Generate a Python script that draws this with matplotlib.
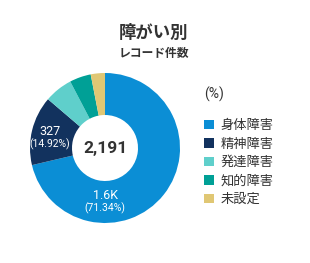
import matplotlib
matplotlib.use("Agg")
import matplotlib.pyplot as plt
from matplotlib.patches import Patch
import numpy as np

plt.rcParams['font.family'] = ['Roboto', 'Noto Sans CJK JP', 'DejaVu Sans']

categories = ['身体障害', '精神障害', '発達障害', '知的障害', '未設定']
values = [1563, 327, 133, 101, 67]
colors = ['#0B8ED5', '#12325E', '#5FCFCB', '#00A096', '#E0C774']
value_labels = ['1.6K', '327', '', '', '']
pct_labels = ['(71.34%)', '(14.92%)', '', '', '']
total_label = '2,191'
title = '障がい別'
subtitle = 'レコード件数'
legend_title = '(%)'

W, H = 310, 263
fig = plt.figure(figsize=(W / 100, H / 100), dpi=100)
ax = fig.add_axes([0, 0, 1, 1])

cx, cy, R = 105, H - 148, 75
wedges, _ = ax.pie(values, colors=colors, startangle=90, counterclock=False,
                   center=(cx, cy), radius=R,
                   wedgeprops=dict(width=R * 0.56, linewidth=0))
ax.set_xlim(0, W)
ax.set_ylim(0, H)
ax.set_aspect('equal')
ax.axis('off')

ax.text(cx, cy, total_label, ha='center', va='center', fontsize=12.5,
        fontweight='bold', color='#333333')

# label placement (angle clockwise from top, radius fraction)
label_place = [(180, 0.71), (281, 0.75)]
for (a, rf), vl, pl in zip(label_place, value_labels, pct_labels):
    ang = np.deg2rad(90 - a)
    x = cx + rf * R * np.cos(ang)
    y = cy + rf * R * np.sin(ang)
    ax.text(x, y + 6, vl, ha='center', va='center', fontsize=9, color='white')
    ax.text(x, y - 7, pl, ha='center', va='center', fontsize=7.5, color='white')

fig.text(153 / W, 1 - 33 / H, title, ha='center', va='center', fontsize=12.5,
         fontweight='bold', color='#333333', family=['Noto Sans CJK JP'])
fig.text(154 / W, 1 - 53 / H, subtitle, ha='center', va='center', fontsize=8.5,
         fontweight='bold', color='#333333', family=['Noto Sans CJK JP'])

handles = [Patch(facecolor=c, edgecolor='none') for c in colors]
leg = ax.legend(handles, categories, title=legend_title, loc='upper left',
                bbox_to_anchor=(204 / W, 1 - 87 / H), frameon=False,
                alignment='left', fontsize=9.5, title_fontsize=10,
                handlelength=0.75, handleheight=0.75, handletextpad=0.5,
                labelspacing=0.42, borderaxespad=0, borderpad=0)
for t in leg.get_texts():
    t.set_color('#333333')
leg.get_title().set_color('#333333')
leg._legend_box.sep = 12

fig.savefig('out.png', dpi=100)
